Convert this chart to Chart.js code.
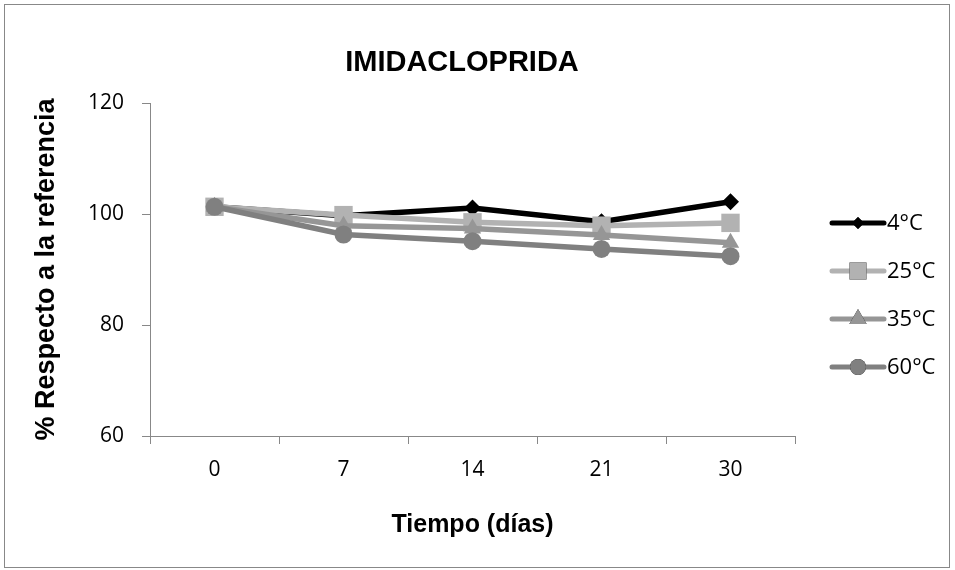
<!DOCTYPE html>
<html>
<head>
<meta charset="utf-8">
<script src="https://cdn.jsdelivr.net/npm/chart.js@4.4.0/dist/chart.umd.min.js"></script>
<style>
  body { margin: 0; background: #fff; }
  #wrap { position: relative; width: 955px; height: 570px; }
  #frame { position: absolute; left: 4px; top: 4px; width: 944px; height: 562px; border: 1px solid #888; }
  canvas { position: absolute; left: 0; top: 0; }
</style>
</head>
<body>
<div id="wrap">
  <div id="frame"></div>
  <canvas id="chart" width="955" height="570"></canvas>
</div>
<script>
// Datos
const dias = ['0', '7', '14', '21', '30'];
const serie4 = [101.3, 99.7, 101.1, 98.6, 102.2];
const serie25 = [101.3, 99.8, 98.5, 97.9, 98.4];
const serie35 = [101.3, 97.9, 97.4, 96.2, 94.8];
const serie60 = [101.3, 96.3, 95.1, 93.7, 92.4];
const nombres = ['4°C', '25°C', '35°C', '60°C'];
const titulo = 'IMIDACLOPRIDA';

const colores = ['#000000', '#b2b2b2', '#969696', '#808080'];
const marcas = ['rectRot', 'rect', 'triangle', 'circle'];
const radios = [8.5, 13, 10, 9];
const radiosLeyenda = [6, 12, 10, 8];

function serie(i, data) {
    return {
        label: nombres[i],
        data: data,
        borderColor: colores[i],
        backgroundColor: colores[i],
        borderWidth: 5.5,
        pointStyle: marcas[i],
        pointRadius: radios[i],
        pointBorderWidth: 0,
        tension: 0,
        order: 4 - i
    };
}

// Título y leyenda dibujados a mano
const extras = {
    id: 'extras',
    afterDraw(chart) {
        const ctx = chart.ctx;
        ctx.save();
        ctx.fillStyle = '#000';
        ctx.font = 'bold 29px "Liberation Sans"';
        ctx.textAlign = 'center';
        ctx.textBaseline = 'middle';
        ctx.fillText(titulo, 462, 63);
        ctx.restore();

        chart.data.datasets.forEach((ds, i) => {
            const y = 223 + i * 48;
            ctx.save();
            ctx.strokeStyle = ds.borderColor;
            ctx.lineWidth = 5;
            ctx.lineCap = 'round';
            ctx.beginPath();
            ctx.moveTo(832, y);
            ctx.lineTo(884, y);
            ctx.stroke();
            Chart.helpers.drawPoint(ctx, {
                pointStyle: ds.pointStyle,
                radius: radiosLeyenda[i],
                borderWidth: 0
            }, 858, y);
            ctx.fillStyle = ds.borderColor;
            ctx.fill();
            ctx.fillStyle = '#000';
            ctx.font = '22px "Open Sans"';
            ctx.textBaseline = 'middle';
            ctx.fillText(ds.label, 887, y + 1);
            ctx.restore();
        });
    }
};

new Chart(document.getElementById('chart'), {
    type: 'line',
    data: {
        labels: dias,
        datasets: [serie(0, serie4), serie(1, serie25), serie(2, serie35), serie(3, serie60)]
    },
    options: {
        responsive: false,
        animation: false,
        layout: { padding: { left: 20, right: 160, top: 103, bottom: 20 } },
        plugins: {
            legend: { display: false },
            tooltip: { enabled: false },
            title: { display: false }
        },
        scales: {
            x: {
                offset: true,
                grid: { display: true, drawOnChartArea: false, offset: true, tickLength: 8, color: '#888' },
                border: { color: '#888', width: 1 },
                ticks: { color: '#000', font: { family: '"Open Sans"', size: 21 }, padding: 13 },
                title: {
                    display: true,
                    text: 'Tiempo (días)',
                    color: '#000',
                    font: { family: '"Liberation Sans"', size: 25, weight: 'bold' },
                    padding: { top: 0, bottom: 10 }
                },
                afterFit(scale) { scale.height = 114; }
            },
            y: {
                min: 60,
                max: 120,
                grid: { display: true, drawOnChartArea: false, tickLength: 8, color: '#888' },
                border: { color: '#888', width: 1 },
                ticks: { stepSize: 20, color: '#000', font: { family: '"Open Sans"', size: 21 }, padding: 18 },
                title: {
                    display: true,
                    text: '% Respecto a la referencia',
                    color: '#000',
                    font: { family: '"Liberation Sans"', size: 27, weight: 'bold' },
                    padding: { top: 10, bottom: 0 }
                },
                afterFit(scale) { scale.width = 130; }
            }
        }
    },
    plugins: [extras]
});
</script>
</body>
</html>
